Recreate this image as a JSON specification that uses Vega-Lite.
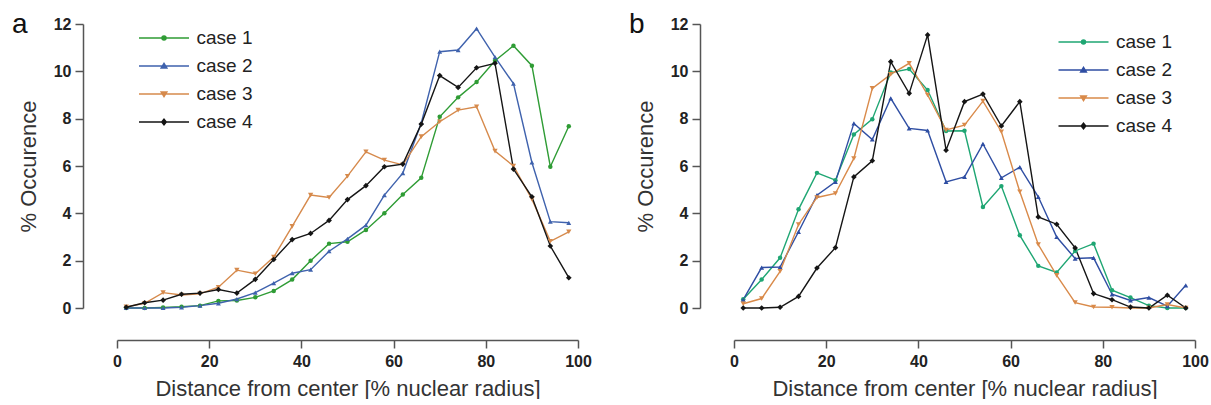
{
"$schema": "https://vega.github.io/schema/vega-lite/v6.json",
"padding": {"left": 12, "top": 11, "right": 0, "bottom": 0},
"background": "white",
"config": {"view": {"stroke": null}, "font": "Liberation Sans"},
"datasets": {
"a": [
{"case":"case 1","x":2,"y":0},{"case":"case 1","x":6,"y":0},{"case":"case 1","x":10,"y":0.02},{"case":"case 1","x":14,"y":0.05},{"case":"case 1","x":18,"y":0.1},{"case":"case 1","x":22,"y":0.3},{"case":"case 1","x":26,"y":0.32},{"case":"case 1","x":30,"y":0.45},{"case":"case 1","x":34,"y":0.72},{"case":"case 1","x":38,"y":1.2},{"case":"case 1","x":42,"y":2.0},{"case":"case 1","x":46,"y":2.72},{"case":"case 1","x":50,"y":2.8},{"case":"case 1","x":54,"y":3.3},{"case":"case 1","x":58,"y":4.0},{"case":"case 1","x":62,"y":4.8},{"case":"case 1","x":66,"y":5.5},{"case":"case 1","x":70,"y":8.08},{"case":"case 1","x":74,"y":8.9},{"case":"case 1","x":78,"y":9.55},{"case":"case 1","x":82,"y":10.45},{"case":"case 1","x":86,"y":11.08},{"case":"case 1","x":90,"y":10.24},{"case":"case 1","x":94,"y":5.97},{"case":"case 1","x":98,"y":7.68},
{"case":"case 2","x":2,"y":0},{"case":"case 2","x":6,"y":0},{"case":"case 2","x":10,"y":0},{"case":"case 2","x":14,"y":0.03},{"case":"case 2","x":18,"y":0.1},{"case":"case 2","x":22,"y":0.2},{"case":"case 2","x":26,"y":0.38},{"case":"case 2","x":30,"y":0.65},{"case":"case 2","x":34,"y":1.05},{"case":"case 2","x":38,"y":1.47},{"case":"case 2","x":42,"y":1.62},{"case":"case 2","x":46,"y":2.4},{"case":"case 2","x":50,"y":2.92},{"case":"case 2","x":54,"y":3.5},{"case":"case 2","x":58,"y":4.77},{"case":"case 2","x":62,"y":5.7},{"case":"case 2","x":66,"y":7.82},{"case":"case 2","x":70,"y":10.83},{"case":"case 2","x":74,"y":10.9},{"case":"case 2","x":78,"y":11.8},{"case":"case 2","x":82,"y":10.6},{"case":"case 2","x":86,"y":9.48},{"case":"case 2","x":90,"y":6.15},{"case":"case 2","x":94,"y":3.65},{"case":"case 2","x":98,"y":3.6},
{"case":"case 3","x":2,"y":0.05},{"case":"case 3","x":6,"y":0.2},{"case":"case 3","x":10,"y":0.65},{"case":"case 3","x":14,"y":0.55},{"case":"case 3","x":18,"y":0.6},{"case":"case 3","x":22,"y":0.88},{"case":"case 3","x":26,"y":1.6},{"case":"case 3","x":30,"y":1.45},{"case":"case 3","x":34,"y":2.15},{"case":"case 3","x":38,"y":3.45},{"case":"case 3","x":42,"y":4.77},{"case":"case 3","x":46,"y":4.67},{"case":"case 3","x":50,"y":5.57},{"case":"case 3","x":54,"y":6.6},{"case":"case 3","x":58,"y":6.25},{"case":"case 3","x":62,"y":6.05},{"case":"case 3","x":66,"y":7.24},{"case":"case 3","x":70,"y":7.87},{"case":"case 3","x":74,"y":8.36},{"case":"case 3","x":78,"y":8.5},{"case":"case 3","x":82,"y":6.63},{"case":"case 3","x":86,"y":6.0},{"case":"case 3","x":90,"y":4.6},{"case":"case 3","x":94,"y":2.82},{"case":"case 3","x":98,"y":3.22},
{"case":"case 4","x":2,"y":0.03},{"case":"case 4","x":6,"y":0.22},{"case":"case 4","x":10,"y":0.33},{"case":"case 4","x":14,"y":0.58},{"case":"case 4","x":18,"y":0.63},{"case":"case 4","x":22,"y":0.78},{"case":"case 4","x":26,"y":0.63},{"case":"case 4","x":30,"y":1.21},{"case":"case 4","x":34,"y":2.05},{"case":"case 4","x":38,"y":2.89},{"case":"case 4","x":42,"y":3.15},{"case":"case 4","x":46,"y":3.7},{"case":"case 4","x":50,"y":4.58},{"case":"case 4","x":54,"y":5.17},{"case":"case 4","x":58,"y":5.97},{"case":"case 4","x":62,"y":6.08},{"case":"case 4","x":66,"y":7.77},{"case":"case 4","x":70,"y":9.82},{"case":"case 4","x":74,"y":9.32},{"case":"case 4","x":78,"y":10.15},{"case":"case 4","x":82,"y":10.34},{"case":"case 4","x":86,"y":5.87},{"case":"case 4","x":90,"y":4.7},{"case":"case 4","x":94,"y":2.62},{"case":"case 4","x":98,"y":1.28}
],
"b": [
{"case":"case 1","x":2,"y":0.37},{"case":"case 1","x":6,"y":1.2},{"case":"case 1","x":10,"y":2.12},{"case":"case 1","x":14,"y":4.17},{"case":"case 1","x":18,"y":5.71},{"case":"case 1","x":22,"y":5.4},{"case":"case 1","x":26,"y":7.33},{"case":"case 1","x":30,"y":7.98},{"case":"case 1","x":34,"y":9.95},{"case":"case 1","x":38,"y":10.1},{"case":"case 1","x":42,"y":9.21},{"case":"case 1","x":46,"y":7.48},{"case":"case 1","x":50,"y":7.49},{"case":"case 1","x":54,"y":4.27},{"case":"case 1","x":58,"y":5.15},{"case":"case 1","x":62,"y":3.07},{"case":"case 1","x":66,"y":1.78},{"case":"case 1","x":70,"y":1.5},{"case":"case 1","x":74,"y":2.41},{"case":"case 1","x":78,"y":2.72},{"case":"case 1","x":82,"y":0.75},{"case":"case 1","x":86,"y":0.44},{"case":"case 1","x":90,"y":0.1},{"case":"case 1","x":94,"y":0},{"case":"case 1","x":98,"y":0},
{"case":"case 2","x":2,"y":0.35},{"case":"case 2","x":6,"y":1.71},{"case":"case 2","x":10,"y":1.73},{"case":"case 2","x":14,"y":3.22},{"case":"case 2","x":18,"y":4.77},{"case":"case 2","x":22,"y":5.33},{"case":"case 2","x":26,"y":7.8},{"case":"case 2","x":30,"y":7.12},{"case":"case 2","x":34,"y":8.86},{"case":"case 2","x":38,"y":7.59},{"case":"case 2","x":42,"y":7.5},{"case":"case 2","x":46,"y":5.33},{"case":"case 2","x":50,"y":5.54},{"case":"case 2","x":54,"y":6.93},{"case":"case 2","x":58,"y":5.5},{"case":"case 2","x":62,"y":5.95},{"case":"case 2","x":66,"y":4.7},{"case":"case 2","x":70,"y":3.0},{"case":"case 2","x":74,"y":2.09},{"case":"case 2","x":78,"y":2.12},{"case":"case 2","x":82,"y":0.58},{"case":"case 2","x":86,"y":0.32},{"case":"case 2","x":90,"y":0.44},{"case":"case 2","x":94,"y":0.08},{"case":"case 2","x":98,"y":0.96},
{"case":"case 3","x":2,"y":0.18},{"case":"case 3","x":6,"y":0.4},{"case":"case 3","x":10,"y":1.55},{"case":"case 3","x":14,"y":3.53},{"case":"case 3","x":18,"y":4.67},{"case":"case 3","x":22,"y":4.84},{"case":"case 3","x":26,"y":6.32},{"case":"case 3","x":30,"y":9.28},{"case":"case 3","x":34,"y":9.87},{"case":"case 3","x":38,"y":10.34},{"case":"case 3","x":42,"y":9.0},{"case":"case 3","x":46,"y":7.52},{"case":"case 3","x":50,"y":7.73},{"case":"case 3","x":54,"y":8.74},{"case":"case 3","x":58,"y":7.45},{"case":"case 3","x":62,"y":4.91},{"case":"case 3","x":66,"y":2.68},{"case":"case 3","x":70,"y":1.38},{"case":"case 3","x":74,"y":0.23},{"case":"case 3","x":78,"y":0.04},{"case":"case 3","x":82,"y":0.03},{"case":"case 3","x":86,"y":0},{"case":"case 3","x":90,"y":0},{"case":"case 3","x":94,"y":0.15},{"case":"case 3","x":98,"y":0},
{"case":"case 4","x":2,"y":0},{"case":"case 4","x":6,"y":0},{"case":"case 4","x":10,"y":0.03},{"case":"case 4","x":14,"y":0.49},{"case":"case 4","x":18,"y":1.69},{"case":"case 4","x":22,"y":2.55},{"case":"case 4","x":26,"y":5.54},{"case":"case 4","x":30,"y":6.22},{"case":"case 4","x":34,"y":10.41},{"case":"case 4","x":38,"y":9.07},{"case":"case 4","x":42,"y":11.54},{"case":"case 4","x":46,"y":6.67},{"case":"case 4","x":50,"y":8.72},{"case":"case 4","x":54,"y":9.04},{"case":"case 4","x":58,"y":7.69},{"case":"case 4","x":62,"y":8.72},{"case":"case 4","x":66,"y":3.85},{"case":"case 4","x":70,"y":3.54},{"case":"case 4","x":74,"y":2.54},{"case":"case 4","x":78,"y":0.61},{"case":"case 4","x":82,"y":0.35},{"case":"case 4","x":86,"y":0.04},{"case":"case 4","x":90,"y":0},{"case":"case 4","x":94,"y":0.54},{"case":"case 4","x":98,"y":0}
]
},
"spacing": 37,
"resolve": {
  "scale": {"x":"independent","y":"independent","color":"independent","shape":"independent","fill":"independent","stroke":"independent","size":"independent"},
  "axis": {"x":"independent","y":"independent"},
  "legend": {"color":"independent","shape":"independent","fill":"independent","stroke":"independent","size":"independent"}
},
"hconcat": [
{
  "width": 461, "height": 284,
  "data": {"name": "a"},
  "title": {"text": "a", "anchor": "start", "frame": "group", "dx": -105, "dy": 45, "offset": 0, "baseline": "alphabetic", "fontSize": 28, "fontWeight": "normal", "font": "Liberation Sans", "color": "#111"},
  "resolve": {"scale": {"color":"independent","shape":"independent","fill":"independent","stroke":"independent","size":"independent"}},
  "layer": [
    {"mark": {"type": "line", "strokeWidth": 1.4},
     "encoding": {
       "x": {"field":"x","type":"quantitative","scale":{"domain":[0,100],"nice":false},"axis":{"values":[0,20,40,60,80,100],"title":"Distance from center [% nuclear radius]","grid":false,"offset":32,"tickSize":8,"tickWidth":1.5,"tickColor":"#555","domainColor":"#555","domainWidth":1.5,"labelFlush":false,"labelFont":"Liberation Sans","labelFontSize":16,"labelFontWeight":"bold","labelColor":"#222","labelPadding":5,"titleFont":"Liberation Sans","titleFontSize":22,"titleFontWeight":"normal","titleColor":"#333","titlePadding":9}},
       "y": {"field":"y","type":"quantitative","scale":{"domain":[0,12],"nice":false,"zero":false},"axis":{"values":[0,2,4,6,8,10,12],"title":"% Occurence","grid":false,"domain":true,"ticks":true,"offset":34,"tickSize":8,"tickWidth":1.5,"tickColor":"#555","domainColor":"#555","domainWidth":1.5,"labelFlush":false,"labelFont":"Liberation Sans","labelFontSize":16,"labelFontWeight":"bold","labelColor":"#222","labelPadding":4,"titleFont":"Liberation Sans","titleFontSize":22,"titleFontWeight":"normal","titleColor":"#333","titlePadding":13}},
       "color": {"field":"case","type":"nominal","scale":{"domain":["case 1","case 2","case 3","case 4"],"range":["#2f9c35","#3f62ad","#d68a4c","#151515"]},"legend":null}
     }},
    {"mark": {"type": "point", "filled": true, "opacity": 1},
     "encoding": {
       "x": {"field":"x","type":"quantitative","scale":{"domain":[0,100],"nice":false},"axis":{"values":[0,20,40,60,80,100],"title":"Distance from center [% nuclear radius]","grid":false,"offset":32,"tickSize":8,"tickWidth":1.5,"tickColor":"#555","domainColor":"#555","domainWidth":1.5,"labelFlush":false,"labelFont":"Liberation Sans","labelFontSize":16,"labelFontWeight":"bold","labelColor":"#222","labelPadding":5,"titleFont":"Liberation Sans","titleFontSize":22,"titleFontWeight":"normal","titleColor":"#333","titlePadding":9}},
       "y": {"field":"y","type":"quantitative","scale":{"domain":[0,12],"nice":false,"zero":false},"axis":{"values":[0,2,4,6,8,10,12],"title":"% Occurence","grid":false,"domain":true,"ticks":true,"offset":34,"tickSize":8,"tickWidth":1.5,"tickColor":"#555","domainColor":"#555","domainWidth":1.5,"labelFlush":false,"labelFont":"Liberation Sans","labelFontSize":16,"labelFontWeight":"bold","labelColor":"#222","labelPadding":4,"titleFont":"Liberation Sans","titleFontSize":22,"titleFontWeight":"normal","titleColor":"#333","titlePadding":13}},
       "color": {"field":"case","type":"nominal","scale":{"domain":["case 1","case 2","case 3","case 4"],"range":["#2f9c35","#3f62ad","#d68a4c","#151515"]},"legend":null},
       "shape": {"field":"case","type":"nominal","scale":{"domain":["case 1","case 2","case 3","case 4"],"range":["circle","triangle-up","triangle-down","diamond"]},"legend":null},
       "size": {"field":"case","type":"ordinal","scale":{"domain":["case 1","case 2","case 3","case 4"],"range":[20,32,32,24]},"legend":null}
     }},
    {"transform": [{"filter": "datum.x < 0"}],
     "mark": {"type": "point", "filled": true, "size": 156.25, "strokeWidth": 1.5},
     "encoding": {
       "x": {"field":"x","type":"quantitative","scale":{"domain":[0,100],"nice":false},"axis":{"values":[0,20,40,60,80,100],"title":"Distance from center [% nuclear radius]","grid":false,"offset":32,"tickSize":8,"tickWidth":1.5,"tickColor":"#555","domainColor":"#555","domainWidth":1.5,"labelFlush":false,"labelFont":"Liberation Sans","labelFontSize":16,"labelFontWeight":"bold","labelColor":"#222","labelPadding":5,"titleFont":"Liberation Sans","titleFontSize":22,"titleFontWeight":"normal","titleColor":"#333","titlePadding":9}},
       "y": {"field":"y","type":"quantitative","scale":{"domain":[0,12],"nice":false,"zero":false},"axis":{"values":[0,2,4,6,8,10,12],"title":"% Occurence","grid":false,"domain":true,"ticks":true,"offset":34,"tickSize":8,"tickWidth":1.5,"tickColor":"#555","domainColor":"#555","domainWidth":1.5,"labelFlush":false,"labelFont":"Liberation Sans","labelFontSize":16,"labelFontWeight":"bold","labelColor":"#222","labelPadding":4,"titleFont":"Liberation Sans","titleFontSize":22,"titleFontWeight":"normal","titleColor":"#333","titlePadding":13}},
       "fill": {"field":"case","type":"nominal","scale":{"domain":["case 1","case 2","case 3","case 4"],"range":["#2f9c35","#3f62ad","#d68a4c","#151515"]},"legend":{"orient":"none","legendX":37.5,"legendY":4.5,"title":null,"symbolSize":156.25,"symbolStrokeWidth":1.5,"labelFont":"Liberation Sans","labelFontSize":19,"labelColor":"#222","labelOffset":23,"rowPadding":8,"padding":0,"symbolOpacity":1}},
       "stroke": {"field":"case","type":"nominal","scale":{"domain":["case 1","case 2","case 3","case 4"],"range":["#2f9c35","#3f62ad","#d68a4c","#151515"]},"legend":{"orient":"none","legendX":37.5,"legendY":4.5,"title":null,"symbolSize":156.25,"symbolStrokeWidth":1.5,"labelFont":"Liberation Sans","labelFontSize":19,"labelColor":"#222","labelOffset":23,"rowPadding":8,"padding":0,"symbolOpacity":1}},
       "shape": {"field":"case","type":"nominal","scale":{"domain":["case 1","case 2","case 3","case 4"],"range":["M-4,0H4M-0.32,0A0.32,0.32,0,1,0,0.32,0A0.32,0.32,0,1,0,-0.32,0Z","M-4,0H4M0,-0.42L0.45,0.32L-0.45,0.32Z","M-4,0H4M0,0.42L0.45,-0.32L-0.45,-0.32Z","M-4,0H4M0,-0.45L0.36,0L0,0.45L-0.36,0Z"]},"legend":{"orient":"none","legendX":37.5,"legendY":4.5,"title":null,"symbolSize":156.25,"symbolStrokeWidth":1.5,"labelFont":"Liberation Sans","labelFontSize":19,"labelColor":"#222","labelOffset":23,"rowPadding":8,"padding":0,"symbolOpacity":1}}
     }}
  ]
},
{
  "width": 461, "height": 284,
  "data": {"name": "b"},
  "title": {"text": "b", "anchor": "start", "frame": "group", "dx": -105, "dy": 45, "offset": 0, "baseline": "alphabetic", "fontSize": 28, "fontWeight": "normal", "font": "Liberation Sans", "color": "#111"},
  "resolve": {"scale": {"color":"independent","shape":"independent","fill":"independent","stroke":"independent","size":"independent"}},
  "layer": [
    {"mark": {"type": "line", "strokeWidth": 1.4},
     "encoding": {
       "x": {"field":"x","type":"quantitative","scale":{"domain":[0,100],"nice":false},"axis":{"values":[0,20,40,60,80,100],"title":"Distance from center [% nuclear radius]","grid":false,"offset":32,"tickSize":8,"tickWidth":1.5,"tickColor":"#555","domainColor":"#555","domainWidth":1.5,"labelFlush":false,"labelFont":"Liberation Sans","labelFontSize":16,"labelFontWeight":"bold","labelColor":"#222","labelPadding":5,"titleFont":"Liberation Sans","titleFontSize":22,"titleFontWeight":"normal","titleColor":"#333","titlePadding":9}},
       "y": {"field":"y","type":"quantitative","scale":{"domain":[0,12],"nice":false,"zero":false},"axis":{"values":[0,2,4,6,8,10,12],"title":"% Occurence","grid":false,"domain":true,"ticks":true,"offset":34,"tickSize":8,"tickWidth":1.5,"tickColor":"#555","domainColor":"#555","domainWidth":1.5,"labelFlush":false,"labelFont":"Liberation Sans","labelFontSize":16,"labelFontWeight":"bold","labelColor":"#222","labelPadding":4,"titleFont":"Liberation Sans","titleFontSize":22,"titleFontWeight":"normal","titleColor":"#333","titlePadding":13}},
       "color": {"field":"case","type":"nominal","scale":{"domain":["case 1","case 2","case 3","case 4"],"range":["#1fa673","#2f4ea3","#d98a4a","#151515"]},"legend":null}
     }},
    {"mark": {"type": "point", "filled": true, "opacity": 1},
     "encoding": {
       "x": {"field":"x","type":"quantitative","scale":{"domain":[0,100],"nice":false},"axis":{"values":[0,20,40,60,80,100],"title":"Distance from center [% nuclear radius]","grid":false,"offset":32,"tickSize":8,"tickWidth":1.5,"tickColor":"#555","domainColor":"#555","domainWidth":1.5,"labelFlush":false,"labelFont":"Liberation Sans","labelFontSize":16,"labelFontWeight":"bold","labelColor":"#222","labelPadding":5,"titleFont":"Liberation Sans","titleFontSize":22,"titleFontWeight":"normal","titleColor":"#333","titlePadding":9}},
       "y": {"field":"y","type":"quantitative","scale":{"domain":[0,12],"nice":false,"zero":false},"axis":{"values":[0,2,4,6,8,10,12],"title":"% Occurence","grid":false,"domain":true,"ticks":true,"offset":34,"tickSize":8,"tickWidth":1.5,"tickColor":"#555","domainColor":"#555","domainWidth":1.5,"labelFlush":false,"labelFont":"Liberation Sans","labelFontSize":16,"labelFontWeight":"bold","labelColor":"#222","labelPadding":4,"titleFont":"Liberation Sans","titleFontSize":22,"titleFontWeight":"normal","titleColor":"#333","titlePadding":13}},
       "color": {"field":"case","type":"nominal","scale":{"domain":["case 1","case 2","case 3","case 4"],"range":["#1fa673","#2f4ea3","#d98a4a","#151515"]},"legend":null},
       "shape": {"field":"case","type":"nominal","scale":{"domain":["case 1","case 2","case 3","case 4"],"range":["circle","triangle-up","triangle-down","diamond"]},"legend":null},
       "size": {"field":"case","type":"ordinal","scale":{"domain":["case 1","case 2","case 3","case 4"],"range":[20,32,32,24]},"legend":null}
     }},
    {"transform": [{"filter": "datum.x < 0"}],
     "mark": {"type": "point", "filled": true, "size": 156.25, "strokeWidth": 1.5},
     "encoding": {
       "x": {"field":"x","type":"quantitative","scale":{"domain":[0,100],"nice":false},"axis":{"values":[0,20,40,60,80,100],"title":"Distance from center [% nuclear radius]","grid":false,"offset":32,"tickSize":8,"tickWidth":1.5,"tickColor":"#555","domainColor":"#555","domainWidth":1.5,"labelFlush":false,"labelFont":"Liberation Sans","labelFontSize":16,"labelFontWeight":"bold","labelColor":"#222","labelPadding":5,"titleFont":"Liberation Sans","titleFontSize":22,"titleFontWeight":"normal","titleColor":"#333","titlePadding":9}},
       "y": {"field":"y","type":"quantitative","scale":{"domain":[0,12],"nice":false,"zero":false},"axis":{"values":[0,2,4,6,8,10,12],"title":"% Occurence","grid":false,"domain":true,"ticks":true,"offset":34,"tickSize":8,"tickWidth":1.5,"tickColor":"#555","domainColor":"#555","domainWidth":1.5,"labelFlush":false,"labelFont":"Liberation Sans","labelFontSize":16,"labelFontWeight":"bold","labelColor":"#222","labelPadding":4,"titleFont":"Liberation Sans","titleFontSize":22,"titleFontWeight":"normal","titleColor":"#333","titlePadding":13}},
       "fill": {"field":"case","type":"nominal","scale":{"domain":["case 1","case 2","case 3","case 4"],"range":["#1fa673","#2f4ea3","#d98a4a","#151515"]},"legend":{"orient":"none","legendX":340,"legendY":8.5,"title":null,"symbolSize":156.25,"symbolStrokeWidth":1.5,"labelFont":"Liberation Sans","labelFontSize":19,"labelColor":"#222","labelOffset":23,"rowPadding":8,"padding":0,"symbolOpacity":1}},
       "stroke": {"field":"case","type":"nominal","scale":{"domain":["case 1","case 2","case 3","case 4"],"range":["#1fa673","#2f4ea3","#d98a4a","#151515"]},"legend":{"orient":"none","legendX":340,"legendY":8.5,"title":null,"symbolSize":156.25,"symbolStrokeWidth":1.5,"labelFont":"Liberation Sans","labelFontSize":19,"labelColor":"#222","labelOffset":23,"rowPadding":8,"padding":0,"symbolOpacity":1}},
       "shape": {"field":"case","type":"nominal","scale":{"domain":["case 1","case 2","case 3","case 4"],"range":["M-4,0H4M-0.32,0A0.32,0.32,0,1,0,0.32,0A0.32,0.32,0,1,0,-0.32,0Z","M-4,0H4M0,-0.42L0.45,0.32L-0.45,0.32Z","M-4,0H4M0,0.42L0.45,-0.32L-0.45,-0.32Z","M-4,0H4M0,-0.45L0.36,0L0,0.45L-0.36,0Z"]},"legend":{"orient":"none","legendX":340,"legendY":8.5,"title":null,"symbolSize":156.25,"symbolStrokeWidth":1.5,"labelFont":"Liberation Sans","labelFontSize":19,"labelColor":"#222","labelOffset":23,"rowPadding":8,"padding":0,"symbolOpacity":1}}
     }}
  ]
}
]
}
